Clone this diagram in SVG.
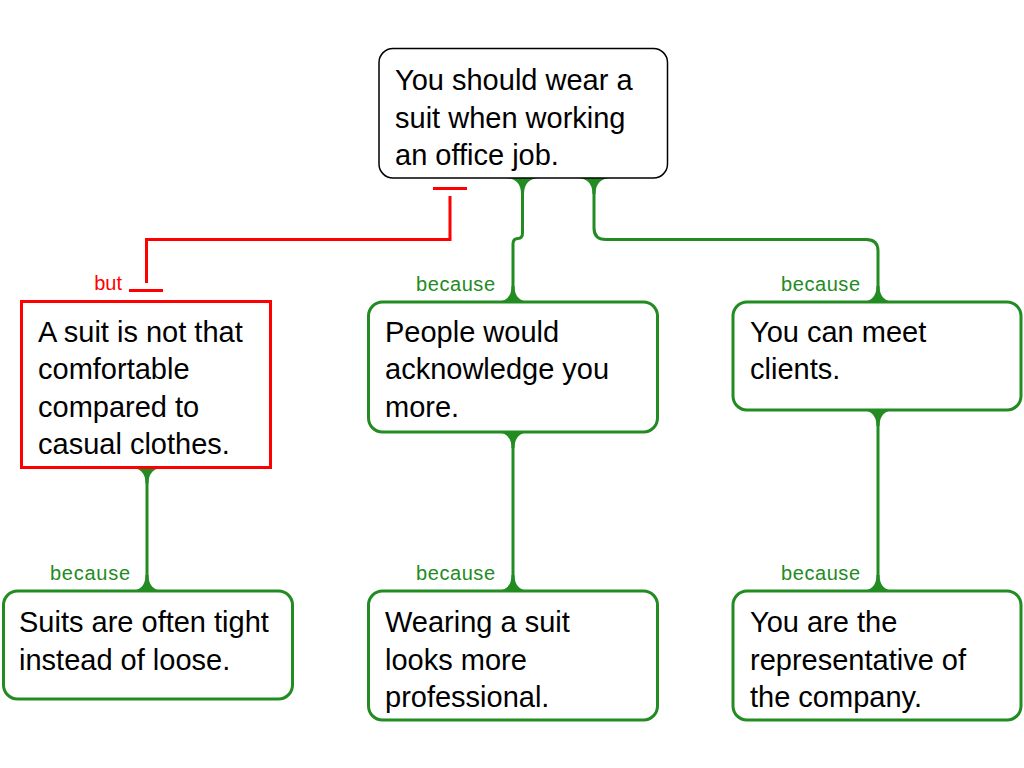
<svg xmlns="http://www.w3.org/2000/svg" xmlns:xlink="http://www.w3.org/1999/xlink" width="1024" height="768" viewBox="0 0 1024 768">
<style>
.txt{font-family:"Liberation Sans",Arial,sans-serif;font-size:29px;fill:#000}
.lbl{font-family:"Liberation Sans",Arial,sans-serif;font-size:20px;text-anchor:end}
.g{fill:#228B22}
.r{fill:#FF0000}
.boxG{fill:#fff;stroke:#228B22;stroke-width:3}
.boxR{fill:#fff;stroke:#FF0000;stroke-width:3}
.boxK{fill:#fff;stroke:#000;stroke-width:1.5}
.cg{fill:none;stroke:#228B22;stroke-width:3}
.cr{fill:none;stroke:#FF0000;stroke-width:3}
</style>
<defs>
<path id="flareDown" d="M-18,0 Q-1.5,0 -1.5,16 L1.5,16 Q1.5,0 18,0 Z" fill="#228B22"/>
<path id="flareUp" d="M-18,0 Q-1.5,0 -1.5,-16 L1.5,-16 Q1.5,0 18,0 Z" fill="#228B22"/>
</defs>
<rect width="1024" height="768" fill="#fff"/>

<g id="connectors">
  <!-- red rebuttal -->
  <path class="cr" d="M450,196 V239.5 H146.5 V283"/>
  <path class="cr" d="M433,188.5 H467"/>
  <path class="cr" d="M129,290.5 H163"/>
  <text class="lbl r" x="122" y="290">but</text>

  <!-- top to middle -->
  <path class="cg" d="M522.5,185 V233 Q522.5,238.5 518,238.5 Q513,238.5 513,244 V295"/>
  <use xlink:href="#flareDown" x="522.5" y="178"/>
  <use xlink:href="#flareUp" x="513" y="302"/>
  <text class="lbl g" x="495" y="290.5" textLength="79" lengthAdjust="spacing">because</text>

  <!-- top to right -->
  <path class="cg" d="M594,185 V228 Q594,239.5 606,239.5 H866 Q878,239.5 878,251 V295"/>
  <use xlink:href="#flareDown" x="594" y="178"/>
  <use xlink:href="#flareUp" x="878" y="302"/>
  <text class="lbl g" x="860" y="290.5" textLength="79" lengthAdjust="spacing">because</text>

  <!-- red to bottom-left -->
  <path class="cg" d="M147,470 V585"/>
  <use xlink:href="#flareDown" x="147" y="467.5"/>
  <use xlink:href="#flareUp" x="147" y="591"/>
  <text class="lbl g" x="130" y="580" textLength="80" lengthAdjust="spacing">because</text>

  <!-- middle to bottom-middle -->
  <path class="cg" d="M513,436 V585"/>
  <use xlink:href="#flareDown" x="513" y="432"/>
  <use xlink:href="#flareUp" x="513" y="591"/>
  <text class="lbl g" x="495" y="580" textLength="79" lengthAdjust="spacing">because</text>

  <!-- right to bottom-right -->
  <path class="cg" d="M878,414 V585"/>
  <use xlink:href="#flareDown" x="878" y="410"/>
  <use xlink:href="#flareUp" x="878" y="591"/>
  <text class="lbl g" x="860" y="580" textLength="79" lengthAdjust="spacing">because</text>
</g>

<g id="claim">
  <rect class="boxK" x="379" y="48.5" width="288.5" height="129.5" rx="14"/>
  <text class="txt" x="395" y="90">You should wear a</text>
  <text class="txt" x="395" y="127.5">suit when working</text>
  <text class="txt" x="395" y="165">an office job.</text>
</g>

<g id="objection">
  <rect class="boxR" x="21.5" y="301.5" width="249" height="166"/>
  <text class="txt" x="38" y="341.5">A suit is not that</text>
  <text class="txt" x="38" y="379">comfortable</text>
  <text class="txt" x="38" y="416.5">compared to</text>
  <text class="txt" x="38" y="454">casual clothes.</text>
</g>

<g id="reason1">
  <rect class="boxG" x="368.5" y="302" width="289" height="130" rx="14"/>
  <text class="txt" x="385" y="341.5">People would</text>
  <text class="txt" x="385" y="379">acknowledge you</text>
  <text class="txt" x="385" y="416.5">more.</text>
</g>

<g id="reason2">
  <rect class="boxG" x="733" y="302" width="288" height="108" rx="14"/>
  <text class="txt" x="750" y="341.5">You can meet</text>
  <text class="txt" x="750" y="379">clients.</text>
</g>

<g id="support1">
  <rect class="boxG" x="3.5" y="591" width="289" height="108" rx="14"/>
  <text class="txt" x="19" y="632">Suits are often tight</text>
  <text class="txt" x="19" y="669.5">instead of loose.</text>
</g>

<g id="support2">
  <rect class="boxG" x="368.5" y="591" width="289" height="129" rx="14"/>
  <text class="txt" x="385" y="632">Wearing a suit</text>
  <text class="txt" x="385" y="669.5">looks more</text>
  <text class="txt" x="385" y="707">professional.</text>
</g>

<g id="support3">
  <rect class="boxG" x="733" y="591" width="288" height="129" rx="14"/>
  <text class="txt" x="750" y="632">You are the</text>
  <text class="txt" x="750" y="669.5">representative of</text>
  <text class="txt" x="750" y="707">the company.</text>
</g>
</svg>
